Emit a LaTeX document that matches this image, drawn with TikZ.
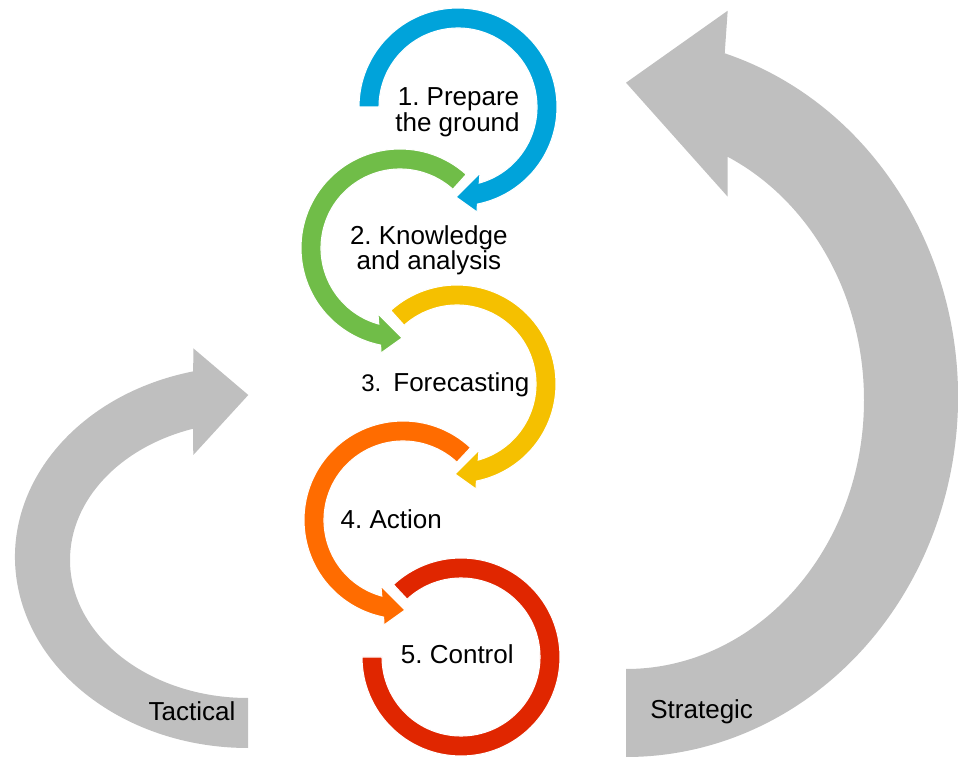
\documentclass[tikz,border=0pt]{standalone}
\usepackage{fontspec}
\setmainfont{Liberation Sans}
\usetikzlibrary{calc}
\definecolor{cblue}{RGB}{0,163,218}
\definecolor{cgreen}{RGB}{112,189,72}
\definecolor{cyellow}{RGB}{245,192,0}
\definecolor{corange}{RGB}{255,108,0}
\definecolor{cred}{RGB}{224,38,0}
\definecolor{cgray}{RGB}{191,191,191}
\tikzset{
  ring/.style={draw=white, line width=0.8pt},
  bigarrow/.style={fill=cgray},
  lbl/.style={inner sep=0pt, anchor=base, font=\fontsize{19.5}{19.5}\selectfont\frenchspacing, text=black},
}
\begin{document}
\begin{tikzpicture}[x=0.75pt,y=0.75pt]
\useasboundingbox (0,0) rectangle (958,758);
\coordinate (B) at (458,651);
\coordinate (G) at (400,510);
\coordinate (Y) at (457,374);
\coordinate (O) at (403,238);
\coordinate (R) at (461,101);
\coordinate (TC1) at (248,201);
\coordinate (SC) at (626,361);
\begin{scope}
\clip (0,0) rectangle (958,758);
% Tactical arrow
\fill[bigarrow] (248,10) -- (248,60)
  arc[start angle=270, end angle=108, x radius=178, y radius=138]
  -- (193.3,303) -- (248.3,363) -- (193.3,409.7) -- ($(TC1)+(103.6:233 and 191)$)
  arc[start angle=103.6, end angle=270, x radius=233, y radius=191] -- cycle;
% Strategic arrow
\fill[bigarrow] (626,1) -- (626,89)
  arc[start angle=-90, end angle=64.7, x radius=238, y radius=269]
  -- (727.7,561.3) -- (626,675.3) -- (727.7,747.3) -- ($(SC)+(72.7:332 and 360)$)
  arc[start angle=72.7, end angle=-90, x radius=332, y radius=360] -- cycle;
\end{scope}
% 1 blue (clockwise from left)
\filldraw[ring, fill=cblue] ($(B)+(180:99)$) arc[start angle=180, end angle=-78.7, radius=99]
  -- ($(B)+(19,-105)$) -- ($(B)+(-2,-90)$) -- ($(B)+(22,-66)$) -- ($(B)+(-74.4:79)$)
  arc[start angle=-74.4, end angle=180, radius=79] -- cycle;
% 2 green (counter-clockwise)
\filldraw[ring, fill=cgreen] ($(G)+(48:99)$) arc[start angle=48, end angle=258.7, radius=99]
  -- ($(G)+(-19,-105)$) -- ($(G)+(2,-90)$) -- ($(G)+(-22,-66)$) -- ($(G)+(254.4:79)$)
  arc[start angle=254.4, end angle=48, radius=79] -- cycle;
% 3 yellow (clockwise)
\filldraw[ring, fill=cyellow] ($(Y)+(132:99)$) arc[start angle=132, end angle=-78.7, radius=99]
  -- ($(Y)+(19,-105)$) -- ($(Y)+(-2,-90)$) -- ($(Y)+(22,-66)$) -- ($(Y)+(-74.4:79)$)
  arc[start angle=-74.4, end angle=132, radius=79] -- cycle;
% 4 orange (counter-clockwise)
\filldraw[ring, fill=corange] ($(O)+(47:99)$) arc[start angle=47, end angle=258.7, radius=99]
  -- ($(O)+(-19,-105)$) -- ($(O)+(2,-90)$) -- ($(O)+(-22,-66)$) -- ($(O)+(254.4:79)$)
  arc[start angle=254.4, end angle=47, radius=79] -- cycle;
% 5 red
\filldraw[ring, fill=cred] ($(R)+(180:99)$) arc[start angle=180, end angle=493, radius=99]
  -- ($(R)+(493:79)$) arc[start angle=493, end angle=180, radius=79] -- cycle;
% labels
\node[lbl] (t1a) at (458.5,652) {1. Prepare};
\node[lbl] (t1b) at (457.5,626.3) {the ground};
\node[lbl] (t2a) at (428.8,513.7) {2. Knowledge};
\node[lbl] (t2b) at (429,488) {and analysis};
\node[lbl] (t3) at (445.3,366.3) {{\fontsize{18}{18}\selectfont 3.}\hspace*{9pt}Forecasting};
\node[lbl] (t4) at (391.3,229.7) {4. Action};
\node[lbl] (t5) at (457.3,94.7) {5. Control};
\node[lbl] (tac) at (192,38) {Tactical};
\node[lbl] (str) at (701.7,39.7) {Strategic};
\end{tikzpicture}
\end{document}
